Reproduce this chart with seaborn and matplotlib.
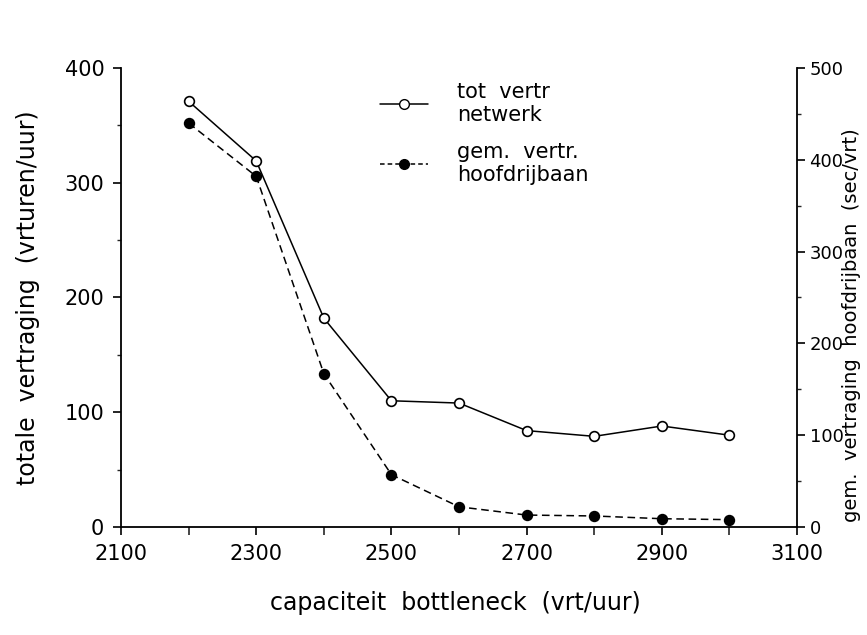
import matplotlib
matplotlib.use("Agg")
import matplotlib.pyplot as plt
import seaborn as sns
from matplotlib.ticker import FixedLocator, MultipleLocator
from matplotlib.lines import Line2D

# capaciteit bottleneck (vrt/uur)
capaciteit = [2200, 2300, 2400, 2500, 2600, 2700, 2800, 2900, 3000]
# totale vertraging netwerk (vrturen/uur), linker as
tot_vertr_netwerk = [371, 319, 182, 110, 108, 84, 79, 88, 80]
# gemiddelde vertraging hoofdrijbaan (sec/vrt), rechter as
gem_vertr_hoofdrijbaan = [440, 382, 167, 57, 22, 13, 12, 9, 8]

x_ticks = [2100, 2300, 2500, 2700, 2900, 3100]
legend_labels = ["tot  vertr\nnetwerk", "gem.  vertr.\nhoofdrijbaan"]

sns.set_theme(style="ticks")
plt.rcParams["font.family"] = ["DejaVu Sans"]
plt.rcParams["text.color"] = "black"
plt.rcParams["axes.labelcolor"] = "black"

fig = plt.figure(figsize=(8.67, 6.35), dpi=100)
ax = fig.add_axes([0.1396, 0.1701, 0.7797, 0.7228])
ax2 = ax.twinx()

sns.lineplot(x=capaciteit, y=tot_vertr_netwerk, ax=ax, color="black", lw=1.1,
             marker="o", markersize=7, markerfacecolor="white",
             markeredgecolor="black", markeredgewidth=1.2)
sns.lineplot(x=capaciteit, y=gem_vertr_hoofdrijbaan, ax=ax2, color="black", lw=1.1,
             linestyle=(0, (5, 3)), marker="o", markersize=7,
             markerfacecolor="black", markeredgecolor="black", markeredgewidth=1.2)

ax.set_xlim(2100, 3100)
ax.set_ylim(0, 400)
ax2.set_ylim(0, 500)

ax.xaxis.set_major_locator(FixedLocator(x_ticks))
ax.xaxis.set_minor_locator(MultipleLocator(100))
ax.yaxis.set_major_locator(MultipleLocator(100))
ax.yaxis.set_minor_locator(MultipleLocator(50))
ax2.yaxis.set_major_locator(MultipleLocator(100))
ax2.yaxis.set_minor_locator(MultipleLocator(50))

for a in (ax, ax2):
    a.spines["top"].set_visible(False)
    for s in a.spines.values():
        s.set_linewidth(1.3)
        s.set_color("black")
    a.grid(False)
ax.spines["right"].set_visible(False)
ax2.spines["left"].set_visible(False)
ax2.spines["bottom"].set_visible(False)

ax.tick_params(axis="both", which="major", direction="out", length=6, width=1.2,
               labelsize=15, colors="black", pad=6)
ax.tick_params(axis="x", which="minor", direction="out", length=6, width=1.2)
ax.tick_params(axis="y", which="minor", direction="out", length=3, width=1)
ax2.tick_params(axis="y", which="major", direction="out", length=6, width=1.2,
                labelsize=13, colors="black", pad=3)
ax2.tick_params(axis="y", which="minor", direction="out", length=3, width=1)

ax.set_xlabel("capaciteit  bottleneck  (vrt/uur)", fontsize=17)
ax.xaxis.set_label_coords(0.494, -0.14)
ax.set_ylabel("totale  vertraging  (vrturen/uur)", fontsize=17)
ax.yaxis.set_label_coords(-0.12, 0.5)
ax2.set_ylabel("gem.  vertraging  hoofdrijbaan  (sec/vrt)", fontsize=14)
ax2.yaxis.set_label_coords(1.067, 0.44)

handles = [
    Line2D([], [], color="black", lw=1.1, marker="o", markersize=7,
           markerfacecolor="white", markeredgecolor="black"),
    Line2D([], [], color="black", lw=1.1, linestyle=(0, (3, 2)), marker="o",
           markersize=7, markerfacecolor="black", markeredgecolor="black"),
]
ax2.legend(handles, legend_labels, loc="upper left",
           bbox_to_anchor=(0.355, 1.01), frameon=False, fontsize=15,
           handlelength=2.3, handletextpad=1.4, labelspacing=0.8)

fig.savefig("out.png", dpi=100)
